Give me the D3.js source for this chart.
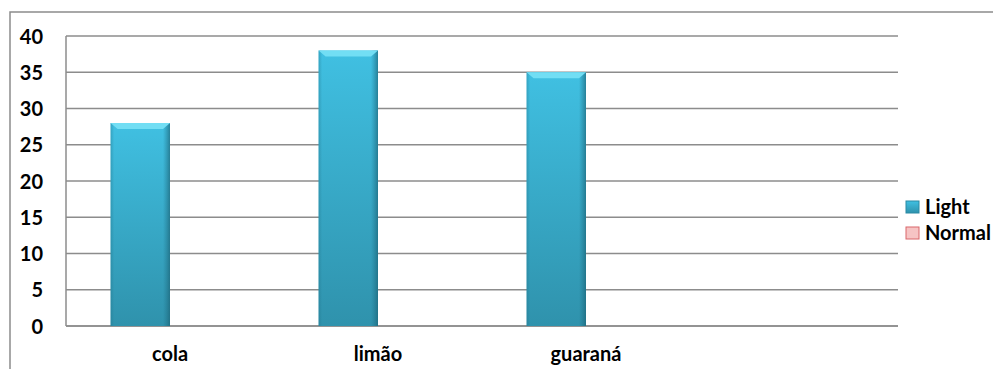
<!DOCTYPE html>
<html>
<head>
	<title>Light x Normal</title>
	<script src="https://cdn.jsdelivr.net/npm/d3@7/dist/d3.min.js"></script>
	<style>
		body { margin: 0; background: #fff; }
		svg text { font-family: Lato, "Liberation Sans", sans-serif; font-weight: 700; fill: #000; }
		.grid line { stroke: #8c8c8c; stroke-width: 1.5; }
		.axis path, .axis line { stroke: #8c8c8c; stroke-width: 1.5; }
	</style>
</head>
<body>
	<svg id="chart" width="993" height="369"></svg>
	<script type="text/javascript">
		// data
		const categories = ["cola", "limão", "guaraná", ""];
		const seriesNames = ["Light", "Normal"];
		const light = [28, 38, 35, null];
		const normal = [0, 0, 0, null];
		const yTicks = [0, 5, 10, 15, 20, 25, 30, 35, 40];

		const svg = d3.select("#chart");
		const plot = { left: 66, top: 36, right: 898, bottom: 326 };

		// outer chart border (runs off the right & bottom edges)
		svg.append("path")
			.attr("d", "M10,369 V12 H993")
			.attr("fill", "none")
			.attr("stroke", "#8c8c8c")
			.attr("stroke-width", 1.5);

		const x = d3.scaleBand()
			.domain(categories)
			.range([plot.left, plot.right])
			.paddingInner(1.5 / 3.5)
			.paddingOuter(0.75 / 3.5);
		const xs = d3.scaleBand().domain(seriesNames).range([0, x.bandwidth()]);
		const y = d3.scaleLinear().domain([0, 40]).range([plot.bottom, plot.top]);

		// gradients for the bevelled bars
		const defs = svg.append("defs");
		const gv = defs.append("linearGradient").attr("id", "lightV")
			.attr("x1", 0).attr("y1", 0).attr("x2", 0).attr("y2", 1);
		gv.append("stop").attr("offset", "0%").attr("stop-color", "#40c0e2");
		gv.append("stop").attr("offset", "100%").attr("stop-color", "#2f92ac");
		const gh = defs.append("linearGradient").attr("id", "lightH")
			.attr("x1", 0).attr("y1", 0).attr("x2", 1).attr("y2", 0);
		gh.append("stop").attr("offset", "0%").attr("stop-color", "#1f6f85").attr("stop-opacity", 0.35);
		gh.append("stop").attr("offset", "6%").attr("stop-color", "#1f6f85").attr("stop-opacity", 0);
		gh.append("stop").attr("offset", "88%").attr("stop-color", "#1f6f85").attr("stop-opacity", 0);
		gh.append("stop").attr("offset", "100%").attr("stop-color", "#1a5f72").attr("stop-opacity", 0.65);

		// gridlines
		svg.append("g").attr("class", "grid")
			.selectAll("line").data(yTicks).join("line")
			.attr("x1", plot.left).attr("x2", plot.right)
			.attr("y1", d => y(d)).attr("y2", d => y(d));

		// y axis
		const yAxis = svg.append("g").attr("class", "axis")
			.attr("transform", `translate(${plot.left},0)`)
			.call(d3.axisLeft(y).tickValues(yTicks).tickSize(0).tickPadding(23));
		yAxis.select(".domain").attr("d", `M0,${plot.top}V${plot.bottom}`);
		yAxis.selectAll("text").attr("font-size", 20).attr("dy", "0.35em");

		// x axis
		const xAxis = svg.append("g").attr("class", "axis")
			.attr("transform", `translate(0,${plot.bottom})`)
			.call(d3.axisBottom(x).tickSize(0).tickPadding(21));
		xAxis.select(".domain").attr("d", `M${plot.left},0H${plot.right}`);
		xAxis.selectAll("text").attr("font-size", 20).attr("dy", "0.71em");

		// Light bars
		const bars = svg.append("g").selectAll("g")
			.data(categories.map((c, i) => ({ c, v: light[i] })).filter(d => d.v != null))
			.join("g")
			.attr("transform", d => `translate(${x(d.c) + xs("Light")},0)`);
		const bw = xs.bandwidth();
		bars.append("rect")
			.attr("y", d => y(d.v)).attr("width", bw)
			.attr("height", d => y(0) - y(d.v))
			.attr("fill", "url(#lightV)");
		bars.append("rect")
			.attr("y", d => y(d.v)).attr("width", bw)
			.attr("height", d => y(0) - y(d.v))
			.attr("fill", "url(#lightH)");
		// top bevel
		bars.append("path")
			.attr("d", d => `M0,${y(d.v)} H${bw} L${bw - 7},${y(d.v) + 6} H7 Z`)
			.attr("fill", "#72def4");

		// Normal bars (all zero)
		svg.append("g").selectAll("rect")
			.data(categories.map((c, i) => ({ c, v: normal[i] })).filter(d => d.v != null))
			.join("rect")
			.attr("x", d => x(d.c) + xs("Normal"))
			.attr("y", d => y(d.v)).attr("width", bw)
			.attr("height", d => y(0) - y(d.v))
			.attr("fill", "#f4b9b9");

		// legend
		const legend = svg.append("g").attr("transform", "translate(906,201)");
		const items = legend.selectAll("g").data(seriesNames).join("g")
			.attr("transform", (d, i) => `translate(0,${i * 26})`);
		items.append("rect")
			.attr("width", 13).attr("height", 12)
			.attr("fill", (d, i) => i === 0 ? "url(#lightV)" : "#f6c4c4")
			.attr("stroke", (d, i) => i === 0 ? "#2a8aa4" : "#d9676a")
			.attr("stroke-width", 1);
		items.append("text")
			.attr("x", 19).attr("y", 6).attr("dy", "0.35em")
			.attr("font-size", 20)
			.text(d => d);
	</script>
</body>
</html>
